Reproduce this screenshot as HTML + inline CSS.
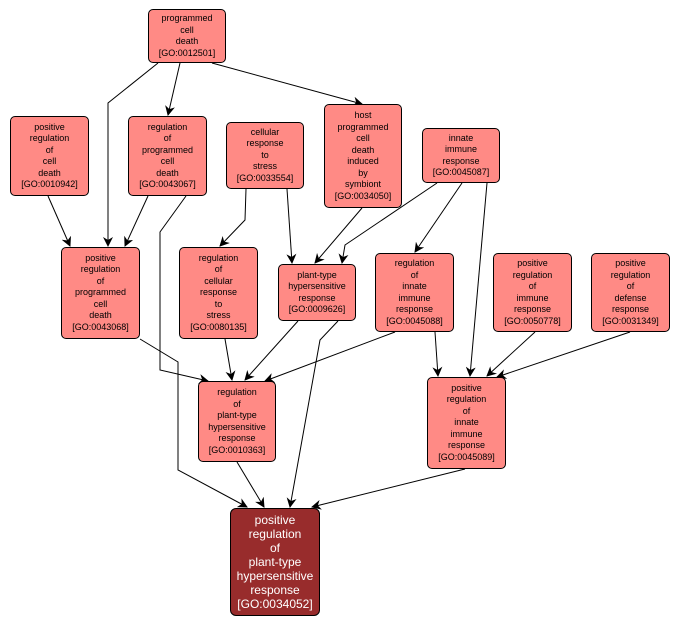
<!DOCTYPE html>
<html><head><style>
body{margin:0;background:#fff;width:682px;height:627px;position:relative;overflow:hidden;font-family:"Liberation Sans",sans-serif}
.n{position:absolute;box-sizing:border-box;background:#ff8a85;border:1px solid #000;border-radius:5px;font-size:9px;line-height:11.5px;text-align:center;display:flex;align-items:center;justify-content:center;color:#000}
.t{background:#982c2c;color:#fff;font-size:12px;line-height:14px;border-radius:6px}
svg{position:absolute;left:0;top:0}
</style></head><body>
<svg width="682" height="627">
<defs><marker id="a" markerWidth="10" markerHeight="10" refX="9" refY="5" orient="auto" markerUnits="userSpaceOnUse"><path d="M0,0 L10,5 L0,10 L3,5 z" fill="#000"/></marker></defs>
<g fill="none" stroke="#000" stroke-width="1" marker-end="url(#a)">
<polyline points="158,63 108,103 108,246"/>
<polyline points="180,63 168,115"/>
<polyline points="212,63 362,104"/>
<polyline points="48,196 70,246"/>
<polyline points="148,196 125,246"/>
<polyline points="186,196 160,232 160,370 208,381"/>
<polyline points="246,189 245,220 220,246"/>
<polyline points="287,189 292,263"/>
<polyline points="437,183 345,245 342,263"/>
<polyline points="362,208 315,263"/>
<polyline points="462,183 415,252"/>
<polyline points="487,183 470,376"/>
<polyline points="140,339 178,362 178,470 247,507"/>
<polyline points="225,339 232,380"/>
<polyline points="298,321 245,380"/>
<polyline points="338,321 320,340 290,507"/>
<polyline points="395,332 265,381"/>
<polyline points="435,332 438,376"/>
<polyline points="535,332 487,376"/>
<polyline points="630,332 497,377"/>
<polyline points="237,462 264,507"/>
<polyline points="465,469 312,507"/>
</g></svg>
<div class="n" style="left:148px;top:9px;width:78px;height:54px">programmed<br>cell<br>death<br>[GO:0012501]</div>
<div class="n" style="left:10px;top:116px;width:79px;height:80px">positive<br>regulation<br>of<br>cell<br>death<br>[GO:0010942]</div>
<div class="n" style="left:128px;top:116px;width:79px;height:80px">regulation<br>of<br>programmed<br>cell<br>death<br>[GO:0043067]</div>
<div class="n" style="left:226px;top:122px;width:78px;height:67px">cellular<br>response<br>to<br>stress<br>[GO:0033554]</div>
<div class="n" style="left:324px;top:104px;width:78px;height:104px">host<br>programmed<br>cell<br>death<br>induced<br>by<br>symbiont<br>[GO:0034050]</div>
<div class="n" style="left:422px;top:128px;width:78px;height:55px">innate<br>immune<br>response<br>[GO:0045087]</div>
<div class="n" style="left:61px;top:247px;width:79px;height:92px">positive<br>regulation<br>of<br>programmed<br>cell<br>death<br>[GO:0043068]</div>
<div class="n" style="left:179px;top:247px;width:79px;height:92px">regulation<br>of<br>cellular<br>response<br>to<br>stress<br>[GO:0080135]</div>
<div class="n" style="left:278px;top:264px;width:78px;height:57px">plant-type<br>hypersensitive<br>response<br>[GO:0009626]</div>
<div class="n" style="left:375px;top:253px;width:79px;height:79px">regulation<br>of<br>innate<br>immune<br>response<br>[GO:0045088]</div>
<div class="n" style="left:493px;top:253px;width:79px;height:79px">positive<br>regulation<br>of<br>immune<br>response<br>[GO:0050778]</div>
<div class="n" style="left:591px;top:253px;width:79px;height:79px">positive<br>regulation<br>of<br>defense<br>response<br>[GO:0031349]</div>
<div class="n" style="left:198px;top:381px;width:78px;height:81px">regulation<br>of<br>plant-type<br>hypersensitive<br>response<br>[GO:0010363]</div>
<div class="n" style="left:427px;top:377px;width:79px;height:92px">positive<br>regulation<br>of<br>innate<br>immune<br>response<br>[GO:0045089]</div>
<div class="n t" style="left:230px;top:508px;width:90px;height:108px">positive<br>regulation<br>of<br>plant-type<br>hypersensitive<br>response<br>[GO:0034052]</div>
</body></html>
